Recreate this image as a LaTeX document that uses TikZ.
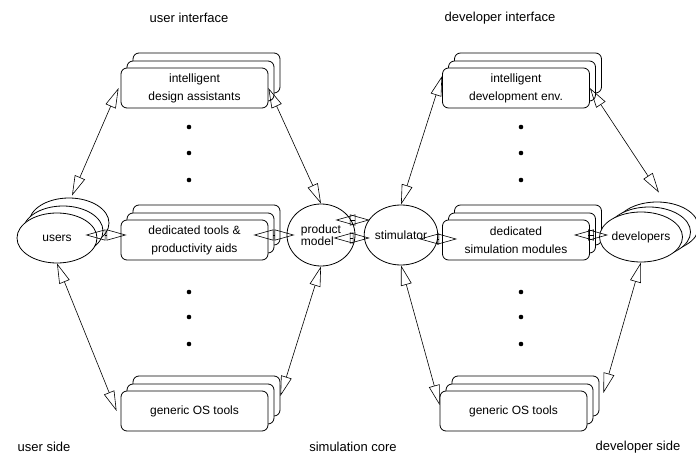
\documentclass[tikz,border=0pt]{standalone}
\usepackage{fontspec}
\setmainfont{Liberation Sans}
\usetikzlibrary{arrows.meta,shapes.geometric,shadows}

\begin{document}
\begin{tikzpicture}[x=1pt,y=-1pt,
	every node/.style={font=\fontsize{12}{18}\selectfont},
	tool/.style={draw,fill=white,rounded corners=6pt,minimum width=147pt,minimum height=40pt,align=center,inner sep=2pt,line width=0.8pt},
	stack/.style={copy shadow={shadow xshift=12pt,shadow yshift=15pt,draw=black,fill=white},copy shadow={shadow xshift=6pt,shadow yshift=7pt,draw=black,fill=white}},
	devstack/.style={copy shadow={shadow xshift=16pt,shadow yshift=10pt,draw=black,fill=white},copy shadow={shadow xshift=8pt,shadow yshift=5pt,draw=black,fill=white}},
	blob/.style={draw,fill=white,ellipse,inner sep=0pt,line width=0.8pt},
	link/.style={{Triangle[open,length=20pt,width=11pt]}-{Triangle[open,length=20pt,width=11pt]},line width=0.6pt},
	side/.style={font=\fontsize{13}{16}\selectfont}]
	\useasboundingbox (0,0) rectangle (696,457);
	\node[side] (uiL) at (189,18) {user interface};
	\node[side] (uiR) at (500,18) {developer interface};
	\node[tool,stack] (designL) at (194.5,88) {intelligent\\design assistants};
	\node[tool,stack] (toolsL) at (194.5,240) {dedicated tools \&\\productivity aids};
	\node[tool,stack] (osL) at (194.5,411) {generic OS tools};
	\node[tool,stack] (devenvR) at (516,88) {intelligent\\development env.};
	\node[tool,stack] (simmodR) at (516,240) {dedicated\\simulation modules};
	\node[tool,stack] (osR) at (513.5,411) {generic OS tools};
	\node[blob,stack,minimum width=80pt,minimum height=50pt] (users) at (57,238) {users};
	\node[blob,minimum width=68pt,minimum height=62pt,align=left,font=\fontsize{12}{12}\selectfont] (model) at (321,235) {product\\model};
	\node[blob,minimum width=68pt,minimum height=60pt] (stim) at (401,235) {stimulator};
	\node[blob,devstack,minimum width=72pt,minimum height=50pt] (devs) at (641,237) {developers};
	\foreach \y in {127,153,180,292,317,344} {\fill (189,\y) circle (2.3pt); \fill (521,\y) circle (2.3pt);}
	% long links
	\draw[link] ([shift={(15,-17)}]users.north) -- ([xshift=-2pt]designL.west);
	\draw[link] (designL.east) -- (model.north);
	\draw[link] (users.south) -- ([xshift=-4pt]osL.west);
	\draw[link] (model.south) -- ([shift={(12,-15)}]osL.east);
	\draw[link] (stim.north) -- ([yshift=12pt]devenvR.west);
	\draw[link] (devenvR.east) -- ([shift={(18,-19)}]devs.north);
	\draw[link] (stim.south) -- ([yshift=6pt]osR.west);
	\draw[link] (devs.south) -- ([shift={(16,-18)}]osR.east);
	% short links
	\draw[link] ([shift={(-12,-3)}]users.east) -- ([shift={(6,-5)}]toolsL.west);
	\draw[link] ([shift={(-15,-5)}]toolsL.east) -- ([xshift=8pt]model.west);
	\draw[link] ([shift={(-20,-15)}]model.east) -- ([shift={(6,-15)}]stim.west);
	\draw[link] ([shift={(-22,3)}]model.east) -- ([shift={(6,3)}]stim.west);
	\draw[link] ([shift={(-19,4)}]stim.east) -- ([shift={(15,-1)}]simmodR.west);
	\draw[link] ([shift={(-16,-5)}]simmodR.east) -- ([shift={(9,-2)}]devs.west);
	\node[side] (sideL) at (44,447) {user side};
	\node[side] (core) at (353,447) {simulation core};
	\node[side] (sideR) at (638,447) {developer side};
\end{tikzpicture}
\end{document}
